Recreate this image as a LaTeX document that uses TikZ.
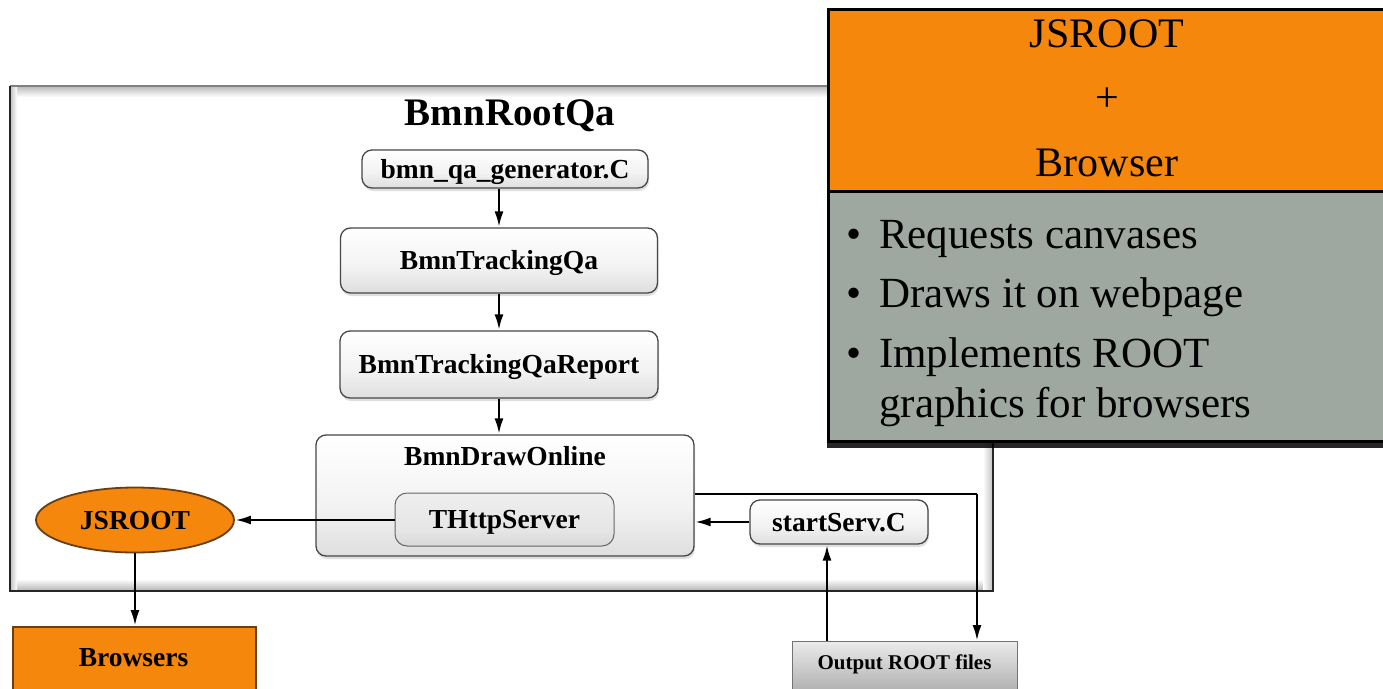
\documentclass[tikz,border=0pt]{standalone}
\usepackage{fontspec}
\setmainfont{Liberation Serif}
\usetikzlibrary{shapes.geometric,shadows,arrows.meta,calc}
\definecolor{jsorange}{RGB}{244,135,12}
\definecolor{panelgrey}{RGB}{158,168,161}
\definecolor{rimbrown}{RGB}{105,62,18}
\pgfdeclareverticalshading{btnshade}{100bp}{color(0bp)=(black!68); color(8bp)=(black!40); color(22bp)=(black!14); color(45bp)=(black!5); color(75bp)=(white); color(100bp)=(white)}
\pgfdeclareverticalshading{innershade}{100bp}{color(0bp)=(black!24); color(40bp)=(black!10); color(100bp)=(black!4)}
\tikzset{
  lbl/.style={font=\bfseries\fontsize{27.5}{30}\selectfont, text height=18.2pt, text depth=0pt, inner sep=0pt},
  btn/.style={rounded corners=10pt, draw=black!72, line width=1.3pt, shading=btnshade,
    drop shadow={shadow xshift=1pt, shadow yshift=-3pt, opacity=0.25},
    lbl},
  inner/.style={rounded corners=12pt, draw=black!60, line width=1pt, shading=innershade, lbl},
  orangebox/.style={draw=rimbrown, line width=1.8pt, fill=jsorange, lbl},
  arr/.style={-{Latex[length=16pt,width=9pt]}, line width=2.6pt, black},
  bigtext/.style={font=\fontsize{42}{50}\selectfont, inner sep=0pt}
}
\begin{document}
\begin{tikzpicture}[x=1pt,y=-1pt]
\useasboundingbox (0,0) rectangle (1383,688);
\clip (0,0) rectangle (1383,688);
\fill[white] (0,0) rectangle (1383,688);

% outer BmnRootQa frame
\fill[white] (10,86) rectangle (993,591);
\shade[top color=black!28, bottom color=white] (10,86) rectangle (993,97);
\shade[top color=white, bottom color=black!30] (10,579) rectangle (993,591);
\shade[left color=white, right color=black!25] (983,86) rectangle (993,591);
\shade[left color=black!25, right color=white] (10,86) rectangle (17,591);
\draw[black!50, line width=2.4pt] (10,86) -- (993,86);
\draw[black!85, line width=2.4pt] (10,86) -- (10,591) -- (993,591) -- (993,86);
\node[font=\bfseries\fontsize{39}{42}\selectfont, inner sep=0pt, anchor=base] (title) at (510,125) {BmnRootQa};

% processing chain
\node[btn, minimum width=286pt, minimum height=38pt] (gen) at (505,169) {bmn\_qa\_generator.C};
\node[btn, minimum width=317pt, minimum height=65pt] (trk) at (499,260.5) {BmnTrackingQa};
\node[btn, minimum width=318pt, minimum height=67pt] (rep) at (499,364.5) {BmnTrackingQaReport};
\node[btn, minimum width=378pt, minimum height=121pt] (drw) at (505,495.5) {};
\node[lbl] (drwlbl) at (505,456) {BmnDrawOnline};
\node[inner, minimum width=219pt, minimum height=53pt] (http) at (504.5,519.5) {THttpServer};
\node[btn, minimum width=178pt, minimum height=44pt] (serv) at (839,522) {startServ.C};

% outside the frame
\node[ellipse, orangebox, minimum width=198pt, minimum height=65pt] (js) at (135,520) {JSROOT};
\node[orangebox, minimum width=243pt, minimum height=64pt, anchor=north west] (brw) at (12,626) {};
\node[lbl] (brwlbl) at (133.5,657) {Browsers};
\node[draw=black!55, line width=1pt, top color=black!8, bottom color=black!32, minimum width=225pt, minimum height=52pt, anchor=north west, inner sep=0pt] (out) at (792,641) {};
\node[font=\bfseries\fontsize{21}{24}\selectfont, text height=13.9pt, text depth=0pt, inner sep=0pt] (outlbl) at (904.5,663) {Output ROOT files};

% connectors
\coordinate (upx) at (827,0);
\coordinate (bend) at (977,494);
\draw[arr] (gen.south -| trk.north) -- (trk.north);
\draw[arr] (trk.south) -- (rep.north);
\draw[arr] (rep.south) -- (rep.south |- drw.north);
\draw[arr] (http.west |- js.east) -- (js.east);
\draw[arr] (serv.west) -- (serv.west -| drw.east);
\draw[arr] (js.south) -- (js.south |- brw.north);
\draw[arr] (out.north -| upx) -- (serv.south -| upx);
\draw[arr, -] (bend -| drw.east) -- (bend);
\draw[arr] (bend) -- (bend |- out.north);

% JSROOT + Browser panel
\node[draw=black, line width=3pt, fill=panelgrey, minimum width=563pt, minimum height=250pt, anchor=north west, inner sep=0pt,
  drop shadow={shadow xshift=-2pt, shadow yshift=-6pt, opacity=0.85, fill=black}] (panel) at (827,190) {};
\node[draw=black, line width=3pt, fill=jsorange, minimum width=563pt, minimum height=182pt, anchor=north west, inner sep=0pt] (head) at (827,8) {};
\node[bigtext, anchor=base] (h1) at (1107,47) {JSROOT};
\node[bigtext, anchor=base] (h2) at (1107,111) {+};
\node[bigtext, anchor=base] (h3) at (1107,176) {Browser};
\node[anchor=base west, inner sep=0pt, font=\fontsize{43}{50}\selectfont] (bul) at (846,248)
  {\begin{tabular}[t]{@{}p{33pt}@{}l@{}}
   \textbullet & Requests canvases\\[9.5pt]
   \textbullet & Draws it on webpage\\[9.5pt]
   \textbullet & Implements ROOT\\
               & graphics for browsers
   \end{tabular}};
\end{tikzpicture}
\end{document}
